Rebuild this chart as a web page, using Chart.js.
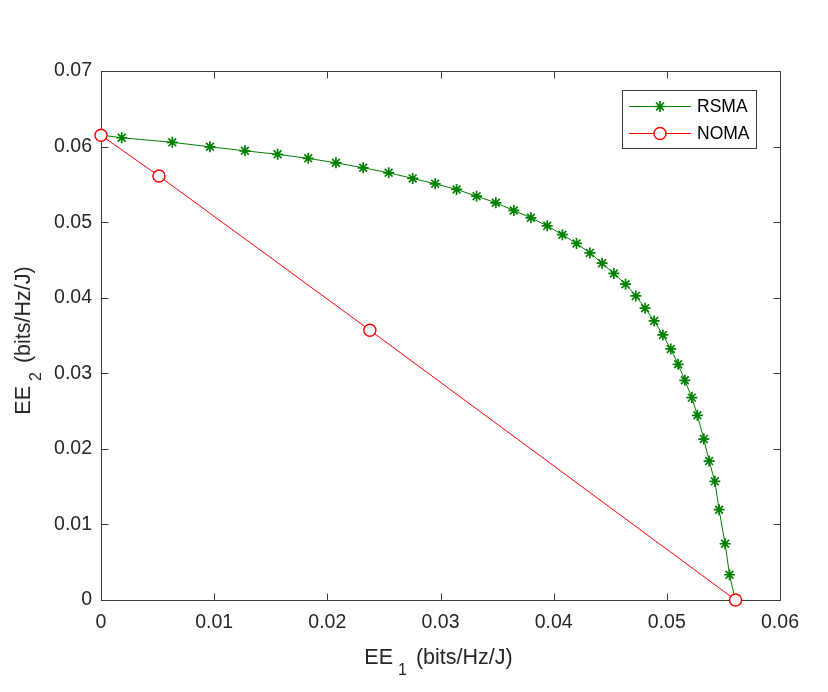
<!DOCTYPE html>
<html>
<head>
<meta charset="utf-8">
<script src="https://cdn.jsdelivr.net/npm/chart.js@4/dist/chart.umd.min.js"></script>
<style>
  html, body { margin: 0; padding: 0; background: #fff; }
  #wrap { width: 828px; height: 692px; }
</style>
</head>
<body>
<div id="wrap"><canvas id="c" width="828" height="692"></canvas></div>
<script>
// ---- data ----
const rsmaEE1 = [0.0000, 0.00183, 0.00630, 0.00963, 0.01272, 0.01561, 0.01831, 0.02076, 0.02317, 0.02542,
                 0.02754, 0.02953, 0.03142, 0.03319, 0.03489, 0.03648, 0.03799, 0.03943, 0.04077, 0.04202,
                 0.04320, 0.04428, 0.04532, 0.04635, 0.04726, 0.04808, 0.04888, 0.04965, 0.05035, 0.05100,
                 0.05159, 0.05221, 0.05270, 0.05327, 0.05374, 0.05424, 0.05462, 0.05515, 0.05554, 0.05605];
const rsmaEE2 = [0.06152, 0.06117, 0.06056, 0.05997, 0.05944, 0.05897, 0.05844, 0.05785, 0.05719, 0.05653,
                 0.05579, 0.05507, 0.05433, 0.05344, 0.05256, 0.05155, 0.05057, 0.04951, 0.04834, 0.04718,
                 0.04593, 0.04457, 0.04321, 0.04179, 0.04024, 0.03861, 0.03693, 0.03507, 0.03322, 0.03119,
                 0.02907, 0.02678, 0.02444, 0.02130, 0.01838, 0.01570, 0.01195, 0.00744, 0.00334, 0.0];
const nomaEE1 = [0.0, 0.00512, 0.02376, 0.05607];
const nomaEE2 = [0.0615, 0.0561, 0.0357, 0.0];

const xTickValues = [0, 0.01, 0.02, 0.03, 0.04, 0.05, 0.06];
const xTickLabels = ['0', '0.01', '0.02', '0.03', '0.04', '0.05', '0.06'];
const yTickValues = [0, 0.01, 0.02, 0.03, 0.04, 0.05, 0.06, 0.07];
const yTickLabels = ['0', '0.01', '0.02', '0.03', '0.04', '0.05', '0.06', '0.07'];
const seriesNames = ['RSMA', 'NOMA'];
const xTitle = ['EE', '1', ' (bits/Hz/J)'];
const yTitle = ['EE', '2', ' (bits/Hz/J)'];

const GREEN = 'rgb(0,128,0)';
const RED = 'rgb(255,0,0)';
const AX = '#262626';
const FONT = '"Liberation Sans", Arial, Helvetica, sans-serif';

const toPts = (xs, ys) => xs.map((x, i) => ({ x: x, y: ys[i] }));

// ---- plugin: MATLAB-like box, inward ticks, axis titles with subscripts, legend ----
const matlabPlugin = {
  id: 'matlab',
  beforeDatasetsDraw(chart) {
    const { ctx, chartArea: a, scales } = chart;
    const L = Math.round(a.left) + 0.5, R = Math.round(a.right) + 0.5;
    const T = Math.round(a.top) + 0.5, B = Math.round(a.bottom) + 0.5;
    ctx.save();
    ctx.strokeStyle = '#3a3a3a';
    ctx.lineWidth = 1;
    ctx.strokeRect(L, T, R - L, B - T);
    const tl = 7;
    ctx.beginPath();
    scales.x.ticks.forEach(t => {
      const px = Math.round(scales.x.getPixelForValue(t.value)) + 0.5;
      ctx.moveTo(px, B); ctx.lineTo(px, B - tl);
      ctx.moveTo(px, T); ctx.lineTo(px, T + tl);
    });
    scales.y.ticks.forEach(t => {
      const py = Math.round(scales.y.getPixelForValue(t.value)) + 0.5;
      ctx.moveTo(L, py); ctx.lineTo(L + tl, py);
      ctx.moveTo(R, py); ctx.lineTo(R - tl, py);
    });
    ctx.stroke();
    ctx.restore();
  },
  afterDraw(chart) {
    const { ctx, chartArea: a } = chart;
    ctx.save();
    ctx.fillStyle = AX;
    const bigF = '21.5px ' + FONT, subF = '16px ' + FONT;
    const gap1 = 5, gap2 = 3;
    function measure(parts) {
      ctx.font = bigF; const w0 = ctx.measureText(parts[0]).width; const w2 = ctx.measureText(parts[2]).width;
      ctx.font = subF; const w1 = ctx.measureText(parts[1]).width;
      return { w0, w1, w2, tot: w0 + gap1 + w1 + gap2 + w2 };
    }
    function drawTitle(parts, cx, baseY) {
      const m = measure(parts);
      let x = cx - m.tot / 2;
      ctx.textAlign = 'left'; ctx.textBaseline = 'alphabetic';
      ctx.font = bigF; ctx.fillText(parts[0], x, baseY); x += m.w0 + gap1;
      ctx.font = subF; ctx.fillText(parts[1], x, baseY + 11); x += m.w1 + gap2;
      ctx.font = bigF; ctx.fillText(parts[2], x, baseY);
    }
    // x title
    drawTitle(xTitle, (a.left + a.right) / 2 - 2, 664);
    // y title (rotated)
    ctx.save();
    ctx.translate(30, (a.top + a.bottom) / 2 + 5);
    ctx.rotate(-Math.PI / 2);
    drawTitle(yTitle, 0, 0);
    ctx.restore();

    // legend
    const lx = 622.5, ly = 90.5, lw = 134, lh = 58;
    ctx.fillStyle = '#fff';
    ctx.fillRect(lx, ly, lw, lh);
    ctx.strokeStyle = '#3a3a3a'; ctx.lineWidth = 1;
    ctx.strokeRect(lx, ly, lw, lh);
    const rows = [
      { y: 106, color: GREEN, name: seriesNames[0], marker: 'star' },
      { y: 133, color: RED, name: seriesNames[1], marker: 'circle' }
    ];
    rows.forEach(r => {
      ctx.strokeStyle = r.color; ctx.lineWidth = 1;
      ctx.beginPath(); ctx.moveTo(629, r.y + 0.5); ctx.lineTo(691, r.y + 0.5); ctx.stroke();
      if (r.marker === 'star') {
        ctx.lineWidth = 1.7; ctx.strokeStyle = r.color;
        ctx.beginPath();
        const s = 5.5, d = s * Math.SQRT1_2;
        ctx.moveTo(660 - s, r.y + 0.5); ctx.lineTo(660 + s, r.y + 0.5);
        ctx.moveTo(660, r.y + 0.5 - s); ctx.lineTo(660, r.y + 0.5 + s);
        ctx.moveTo(660 - d, r.y + 0.5 - d); ctx.lineTo(660 + d, r.y + 0.5 + d);
        ctx.moveTo(660 - d, r.y + 0.5 + d); ctx.lineTo(660 + d, r.y + 0.5 - d);
        ctx.stroke();
      } else {
        ctx.fillStyle = '#fff'; ctx.lineWidth = 1.4;
        ctx.beginPath(); ctx.arc(660, r.y + 0.5, 6, 0, Math.PI * 2); ctx.fill(); ctx.stroke();
      }
      ctx.fillStyle = '#000';
      ctx.font = '17.5px ' + FONT;
      ctx.textAlign = 'left'; ctx.textBaseline = 'middle';
      ctx.fillText(r.name, 697, r.y + 1);
    });
    ctx.restore();
  }
};

new Chart(document.getElementById('c'), {
  type: 'scatter',
  data: {
    datasets: [
      {
        label: seriesNames[0],
        data: toPts(rsmaEE1, rsmaEE2),
        showLine: true,
        borderColor: GREEN,
        backgroundColor: GREEN,
        borderWidth: 1,
        pointStyle: 'star',
        pointRadius: 5.5,
        pointBorderWidth: 1.7,
        pointBorderColor: GREEN,
        pointBackgroundColor: GREEN,
        tension: 0,
        clip: false,
        order: 1
      },
      {
        label: seriesNames[1],
        data: toPts(nomaEE1, nomaEE2),
        showLine: true,
        borderColor: RED,
        backgroundColor: '#fff',
        borderWidth: 1,
        pointStyle: 'circle',
        pointRadius: 6,
        pointBorderWidth: 1.4,
        pointBorderColor: RED,
        pointBackgroundColor: '#fff',
        tension: 0,
        clip: false,
        order: 0
      }
    ]
  },
  options: {
    responsive: false,
    animation: false,
    events: [],
    layout: { padding: { left: 0, right: 48, top: 71, bottom: 0 } },
    plugins: { legend: { display: false }, tooltip: { enabled: false }, title: { display: false } },
    scales: {
      x: {
        type: 'linear',
        min: 0, max: 0.06,
        grid: { display: false, drawTicks: false },
        border: { display: false },
        afterBuildTicks: s => { s.ticks = xTickValues.map(v => ({ value: v })); },
        afterFit: s => { s.height = 92; },
        ticks: {
          autoSkip: false, maxRotation: 0, padding: 11,
          color: AX, font: { family: FONT, size: 19.5 },
          callback: (v, i) => xTickLabels[i]
        }
      },
      y: {
        type: 'linear',
        min: 0, max: 0.07,
        grid: { display: false, drawTicks: false },
        border: { display: false },
        afterBuildTicks: s => { s.ticks = yTickValues.map(v => ({ value: v })); },
        afterFit: s => { s.width = 101; },
        ticks: {
          autoSkip: false, padding: 9,
          color: AX, font: { family: FONT, size: 19.5 },
          callback: (v, i) => yTickLabels[i]
        }
      }
    }
  },
  plugins: [matlabPlugin]
});
</script>
</body>
</html>
